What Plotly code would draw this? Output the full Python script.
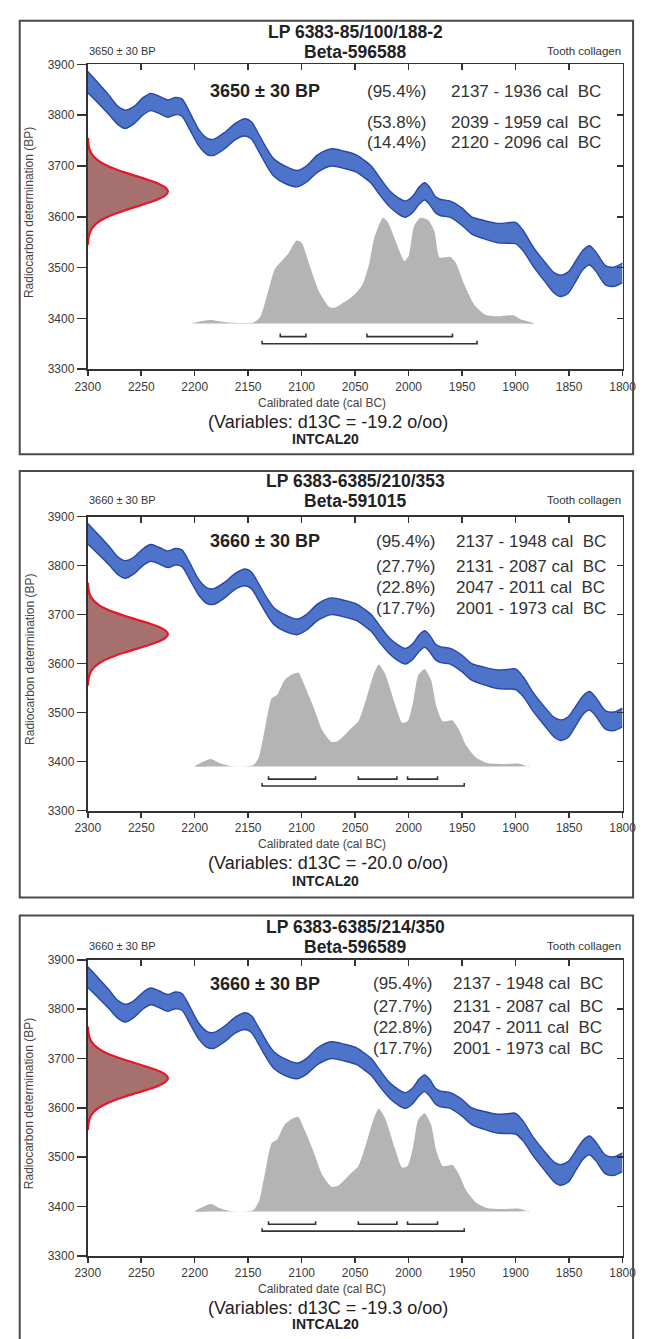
import plotly.graph_objects as go

# ---------------- data ----------------
cal_years = [2300, 2290, 2280, 2272, 2265, 2257, 2248, 2241, 2233, 2225, 2218, 2212, 2205, 2196,
             2188, 2182, 2172, 2162, 2153, 2147, 2140, 2132, 2126, 2115, 2104, 2095, 2085, 2072,
             2060, 2049, 2042, 2035, 2027, 2018, 2010, 2003, 1996, 1990, 1985, 1980, 1975, 1970,
             1961, 1950, 1941, 1930, 1917, 1908, 1900, 1893, 1883, 1872, 1864, 1858, 1851, 1844,
             1837, 1831, 1825, 1816, 1808, 1800]
cal_center = [3865, 3843, 3820, 3800, 3792, 3800, 3818, 3826, 3820, 3813, 3818, 3815, 3790, 3755,
              3738, 3737, 3750, 3768, 3776, 3770, 3745, 3715, 3697, 3682, 3675, 3685, 3705, 3717,
              3712, 3705, 3695, 3683, 3660, 3636, 3622, 3615, 3625, 3642, 3650, 3640, 3624, 3618,
              3615, 3600, 3583, 3575, 3568, 3568, 3568, 3553, 3520, 3490, 3470, 3464, 3470, 3492,
              3515, 3524, 3512, 3485, 3482, 3490]
cal_halfwidth = [21, 20, 19, 18, 18, 17, 17, 17, 17, 17, 17, 17, 17, 16,
                 16, 16, 16, 16, 17, 17, 17, 17, 17, 17, 16, 16, 17, 17,
                 17, 17, 17, 17, 17, 16, 16, 16, 16, 17, 17, 17, 16, 16,
                 16, 17, 17, 18, 19, 20, 21, 20, 19, 19, 20, 21, 21, 20,
                 19, 19, 19, 19, 19, 19]

titles = ["LP 6383-85/100/188-2", "LP 6383-6385/210/353", "LP 6383-6385/214/350"]
lab_codes = ["Beta-596588", "Beta-591015", "Beta-596589"]
c14_mean = [3650, 3660, 3660]
c14_err = [30, 30, 30]
d13c = ["-19.2", "-20.0", "-19.3"]
material = ["Tooth collagen", "Tooth collagen", "Tooth collagen"]

# calibrated ranges: (probability, from, to)
ranges = [
    [("95.4%", 2137, 1936), ("53.8%", 2039, 1959), ("14.4%", 2120, 2096)],
    [("95.4%", 2137, 1948), ("27.7%", 2131, 2087), ("22.8%", 2047, 2011), ("17.7%", 2001, 1973)],
    [("95.4%", 2137, 1948), ("27.7%", 2131, 2087), ("22.8%", 2047, 2011), ("17.7%", 2001, 1973)],
]

# measured radiocarbon probability (offset from mean in BP -> relative width)
gauss_offset = [-105, -97.5, -90, -82.5, -75, -67.5, -60, -52.5, -45, -37.5, -30, -22.5, -15, -7.5, 0,
                7.5, 15, 22.5, 30, 37.5, 45, 52.5, 60, 67.5, 75, 82.5, 90, 97.5, 105]
gauss_rel = [0.002, 0.005, 0.011, 0.023, 0.044, 0.080, 0.135, 0.216, 0.325, 0.458, 0.607, 0.755, 0.883, 0.969, 1.0,
             0.969, 0.883, 0.755, 0.607, 0.458, 0.325, 0.216, 0.135, 0.080, 0.044, 0.023, 0.011, 0.005, 0.002]
gauss_peak_years = 75

# calibrated probability distributions (top edge in BP units, baseline 3390)
dist_baseline = 3390
dist1_years = [2202, 2186, 2169, 2145, 2139, 2132, 2125, 2113, 2105, 2100, 2093, 2084, 2074, 2069,
               2060, 2050, 2043, 2037, 2032, 2024, 2019, 2011, 2004, 2000, 1995, 1989, 1982, 1976,
               1971, 1961, 1956, 1948, 1939, 1928, 1917, 1902, 1895, 1883]
dist1_vals = [3391, 3397, 3392, 3392, 3402, 3448, 3497, 3526, 3553, 3549, 3507, 3454, 3422, 3421,
              3432, 3448, 3467, 3507, 3559, 3598, 3588, 3546, 3513, 3523, 3581, 3598, 3594, 3572,
              3520, 3521, 3510, 3467, 3428, 3407, 3404, 3406, 3398, 3391]
dist2_years = [2200, 2185, 2177, 2167, 2157, 2145, 2140, 2135, 2128, 2123, 2116, 2108, 2103, 2098,
               2089, 2081, 2072, 2066, 2055, 2047, 2040, 2033, 2028, 2022, 2013, 2006, 2001, 1996,
               1991, 1985, 1979, 1974, 1968, 1959, 1953, 1946, 1937, 1927, 1910, 1897, 1887]
dist2_vals = [3390, 3405, 3397, 3391, 3390, 3393, 3410, 3460, 3529, 3536, 3566, 3579, 3581, 3559,
              3512, 3465, 3440, 3442, 3465, 3482, 3525, 3576, 3598, 3579, 3519, 3479, 3482, 3519,
              3576, 3589, 3566, 3512, 3482, 3484, 3465, 3432, 3408, 3397, 3395, 3396, 3389]
dist_years = [dist1_years, dist2_years, dist2_years]
dist_vals = [dist1_vals, dist2_vals, dist2_vals]
bar_level_main = 3350
bar_level_sub = 3364

x_ticks = [2300, 2250, 2200, 2150, 2100, 2050, 2000, 1950, 1900, 1850, 1800]
y_ticks = [3300, 3400, 3500, 3600, 3700, 3800, 3900]

# ---------------- layout geometry (pixels) ----------------
W, H = 649, 1339
def px(x):
    return x / W
def py(y):
    return 1 - y / H

boxes = [(7, 14, 647, 452), (7, 469, 647, 900), (7, 918, 647, 1350)]
plot_y = [(58, 366), (515, 812), (963, 1262)]
plot_x = (78, 636)
title_y = [(25, 45), (479, 499), (930, 950)]
row_y = [[85, 117, 137], [540, 565, 587, 608], [987, 1010, 1031, 1052]]
pct_x = [367, 377, 374]
rng_x = [455, 460, 457]

FONT = "Liberation Sans, Arial, Helvetica, sans-serif"
DARK = "#333333"

fig = go.Figure()
layout_axes = {}
annotations = []
shapes = []

upper = [c + h for c, h in zip(cal_center, cal_halfwidth)]
lower = [c - h for c, h in zip(cal_center, cal_halfwidth)]

for p in range(3):
    xm, ym = f"x{2*p+1}", f"y{2*p+1}"
    xo, yo = f"x{2*p+2}", f"y{2*p+2}"
    xm_name = "xaxis" if p == 0 else f"xaxis{2*p+1}"
    ym_name = "yaxis" if p == 0 else f"yaxis{2*p+1}"
    if p == 0:
        xm, ym = "x", "y"
    xo_name, yo_name = f"xaxis{2*p+2}", f"yaxis{2*p+2}"
    top, bot = plot_y[p]
    xdom = [px(plot_x[0]), px(plot_x[1])]
    ydom = [py(bot), py(top)]

    layout_axes[xm_name] = dict(domain=xdom, anchor=ym, range=[2300, 1800], tickvals=x_ticks,
                                ticks="outside", ticklen=5, tickwidth=1.5, tickcolor=DARK,
                                showline=True, linecolor=DARK, linewidth=2, showgrid=False,
                                zeroline=False, ticklabeloverflow="allow",
                                tickfont=dict(family=FONT, size=12, color="#3a3a3a"))
    layout_axes[ym_name] = dict(domain=ydom, anchor=xm, range=[3300, 3900], tickvals=y_ticks,
                                ticks="outside", ticklen=9, tickwidth=1.5, tickcolor=DARK,
                                showline=True, linecolor=DARK, linewidth=2, showgrid=False,
                                zeroline=False, ticklabeloverflow="allow",
                                tickfont=dict(family=FONT, size=12, color="#3a3a3a"))
    layout_axes[xo_name] = dict(overlaying=xm, side="top", anchor=yo, range=[2300, 1800],
                                tickvals=x_ticks, ticks="inside", ticklen=6, tickwidth=1.5,
                                tickcolor=DARK, showticklabels=False, showline=True, linecolor=DARK,
                                linewidth=1.5, showgrid=False, zeroline=False)
    layout_axes[yo_name] = dict(overlaying=ym, side="right", anchor=xo, range=[3300, 3900],
                                tickvals=y_ticks, ticks="inside", ticklen=6, tickwidth=1.5,
                                tickcolor=DARK, showticklabels=False, showline=True, linecolor=DARK,
                                linewidth=1.5, showgrid=False, zeroline=False)

    # calibrated probability distribution (grey)
    dx = dist_years[p]
    dv = dist_vals[p]
    fig.add_trace(go.Scatter(x=dx + dx[::-1], y=dv + [dist_baseline] * len(dx),
                             fill="toself", fillcolor="#b4b4b4", line=dict(width=0, shape="spline", smoothing=0.6),
                             mode="lines", xaxis=xm, yaxis=ym, hoverinfo="skip", showlegend=False))

    # calibration curve band
    fig.add_trace(go.Scatter(x=cal_years, y=lower, mode="lines",
                             line=dict(color="#2747a8", width=1.4, shape="spline", smoothing=0.8),
                             xaxis=xm, yaxis=ym, hoverinfo="skip", showlegend=False))
    fig.add_trace(go.Scatter(x=cal_years, y=upper, mode="lines", fill="tonexty",
                             fillcolor="#4d74c8",
                             line=dict(color="#2747a8", width=1.4, shape="spline", smoothing=0.8),
                             xaxis=xm, yaxis=ym, hoverinfo="skip", showlegend=False))

    # measured radiocarbon date (red)
    gy = [c14_mean[p] + o * c14_err[p] / 30 for o in gauss_offset]
    gx = [2300 - r * gauss_peak_years for r in gauss_rel]
    fig.add_trace(go.Scatter(x=gx, y=gy, mode="lines", fill="toself", fillcolor="#a6706f",
                             line=dict(color="#e8162a", width=2.2, shape="spline"),
                             xaxis=xm, yaxis=ym, hoverinfo="skip", showlegend=False))

    # range bars
    for i, (pct, a, b) in enumerate(ranges[p]):
        lvl = bar_level_main if i == 0 else bar_level_sub
        fig.add_trace(go.Scatter(x=[a, a, b, b], y=[lvl + 6, lvl, lvl, lvl + 6], mode="lines",
                                 line=dict(color=DARK, width=1.6), xaxis=xm, yaxis=ym,
                                 hoverinfo="skip", showlegend=False))

    # dummy trace for overlay axes
    fig.add_trace(go.Scatter(x=[2300], y=[3300], mode="markers", marker=dict(opacity=0),
                             xaxis=xo, yaxis=yo, hoverinfo="skip", showlegend=False))

    # panel box
    x0, y0, x1, y1 = boxes[p]
    shapes.append(dict(type="rect", xref="paper", yref="paper", x0=px(x0), x1=px(x1),
                       y0=py(y1), y1=py(y0), line=dict(color="#4a4a4a", width=2),
                       fillcolor="rgba(0,0,0,0)", layer="above"))

    cx_plot = (plot_x[0] + plot_x[1]) / 2
    def ann(text, x, y, size, bold=False, xanchor="center", color="#222", angle=0):
        annotations.append(dict(text=f"<b>{text}</b>" if bold else text, x=px(x), y=py(y),
                                xref="paper", yref="paper", xanchor=xanchor, yanchor="middle",
                                showarrow=False, textangle=angle,
                                font=dict(family=FONT, size=size, color=color)))

    ann(titles[p], cx_plot, title_y[p][0], 17.5, bold=True)
    ann(lab_codes[p], cx_plot, title_y[p][1], 17.5, bold=True)
    date_txt = f"{c14_mean[p]} \u00b1 {c14_err[p]} BP"
    ann(date_txt, 77, title_y[p][1] - 1, 11, xanchor="left", color="#333")
    ann(material[p], 637, title_y[p][1] - 1, 11.5, xanchor="right", color="#333")
    ann(date_txt, 263, row_y[p][0], 18, bold=True)
    for i, (pct, a, b) in enumerate(ranges[p]):
        ann(f"({pct})", pct_x[p], row_y[p][i], 17, xanchor="left", color="#333")
        ann(f"{a} - {b} cal\u00a0 BC", rng_x[p], row_y[p][i], 17, xanchor="left", color="#333")
    ann("Radiocarbon determination (BP)", 17, (top + bot) / 2 - 4, 12, angle=-90, color="#444")
    ann("Calibrated date (cal BC)", 322, bot + 34, 12, color="#444")
    ann(f"(Variables: d13C = {d13c[p]} o/oo)", 329, bot + 53, 18, color="#222")
    ann("INTCAL20", 326, min(bot + 71, 1331), 14, bold=True, color="#222")

fig.update_layout(width=W, height=H, autosize=False, margin=dict(l=0, r=0, t=0, b=0),
                  paper_bgcolor="white", plot_bgcolor="white", showlegend=False,
                  annotations=annotations, shapes=shapes, **layout_axes)

fig.write_html("out.html", config={"displayModeBar": False, "staticPlot": True},
               post_script="document.body.style.margin='0px';document.body.style.overflow='hidden';")
